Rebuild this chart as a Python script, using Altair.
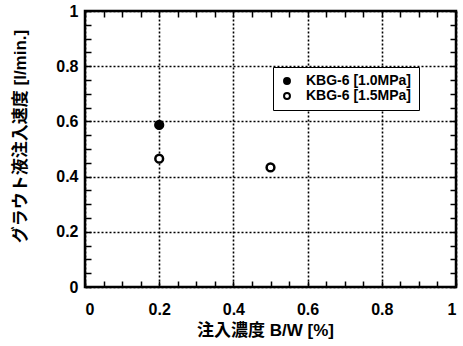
import altair as alt
import pandas as pd

# ---- data ----
series = ["KBG-6 [1.0MPa]", "KBG-6 [1.5MPa]", "KBG-6 [1.5MPa]"]
bw = [0.2, 0.2, 0.5]
rate = [0.587, 0.465, 0.433]
series_order = ["KBG-6 [1.0MPa]", "KBG-6 [1.5MPa]"]
axis_values = [0, 0.2, 0.4, 0.6, 0.8, 1]
minor_ticks = [0, 0.05, 0.1, 0.15, 0.2, 0.25, 0.3, 0.35, 0.4, 0.45, 0.5,
               0.55, 0.6, 0.65, 0.7, 0.75, 0.8, 0.85, 0.9, 0.95, 1]

df = pd.DataFrame({"series": series, "bw": bw, "rate": rate})

W, H = 371, 276
TICK = 6
FONT = "Liberation Sans, Noto Sans CJK JP"
xs = alt.Scale(domain=[0, 1], nice=False, zero=False)
ys = alt.Scale(domain=[0, 1], nice=False, zero=False)

x_axis = alt.Axis(orient="bottom", values=axis_values, format="~g",
                  title="注入濃度 B/W [%]", labelPadding=14, titleY=43, titleX=180,
                  titleBaseline="middle")
y_axis = alt.Axis(orient="left", values=axis_values, format="~g",
                  title="グラウト液注入速度 [l/min.]", labelPadding=7, titleX=-65,
                  titleY=125, titleAngle=-90, titleAlign="center",
                  titleBaseline="middle")


def tick_axis(orient, offset):
    # axis placed on the opposite edge so its ticks point into the plot
    return alt.Axis(orient=orient, offset=offset, values=minor_ticks, labels=False,
                    grid=False, domain=False, ticks=True, tickSize=TICK,
                    tickWidth=1.5, tickColor="black", title=None)


points = alt.Chart(df).mark_point(filled=True, size=60, stroke="black",
                                   strokeWidth=2.5, opacity=1).encode(
    x=alt.X("bw:Q", scale=xs, axis=x_axis),
    y=alt.Y("rate:Q", scale=ys, axis=y_axis),
    fill=alt.Fill("series:N",
                  scale=alt.Scale(domain=series_order, range=["black", "white"]),
                  legend=alt.Legend(orient="none", legendX=188, legendY=56, title=None,
                                    strokeColor="black", fillColor="white", padding=7,
                                    labelFont=FONT, labelFontSize=14, labelFontWeight="bold",
                                    labelColor="black", labelOffset=12, symbolSize=35,
                                    symbolType="circle", symbolStrokeColor="black",
                                    symbolStrokeWidth=2, rowPadding=1)),
)

# inward ticks on bottom edge and left edge
ticks_a = alt.Chart(df).mark_point(opacity=0).encode(
    x=alt.X("bw:Q", scale=xs, axis=tick_axis("top", -H)),
    y=alt.Y("rate:Q", scale=ys, axis=tick_axis("right", -W)),
)
# inward ticks on top edge and right edge
ticks_b = alt.Chart(df).mark_point(opacity=0).encode(
    x=alt.X("bw:Q", scale=xs, axis=tick_axis("bottom", -H)),
    y=alt.Y("rate:Q", scale=ys, axis=tick_axis("left", -W)),
)

chart = alt.layer(points, ticks_a, ticks_b).resolve_axis(
    x="independent", y="independent"
).properties(
    width=W, height=H,
    autosize=alt.AutoSizeParams(type="none"),
    padding={"left": 85, "top": 11, "right": 7, "bottom": 59},
    background="white",
).configure_view(stroke="black", strokeWidth=2.5).configure_axis(
    domain=False, ticks=False, grid=True, gridColor="black", gridDash=[2, 2],
    gridWidth=1.6, gridOpacity=1,
    labelFont=FONT, labelFontSize=16, labelFontWeight="bold", labelColor="black",
    titleFont=FONT, titleFontSize=17, titleFontWeight="bold", titleColor="black",
)

chart.save("out.html", embed_options={"renderer": "svg", "actions": False})
